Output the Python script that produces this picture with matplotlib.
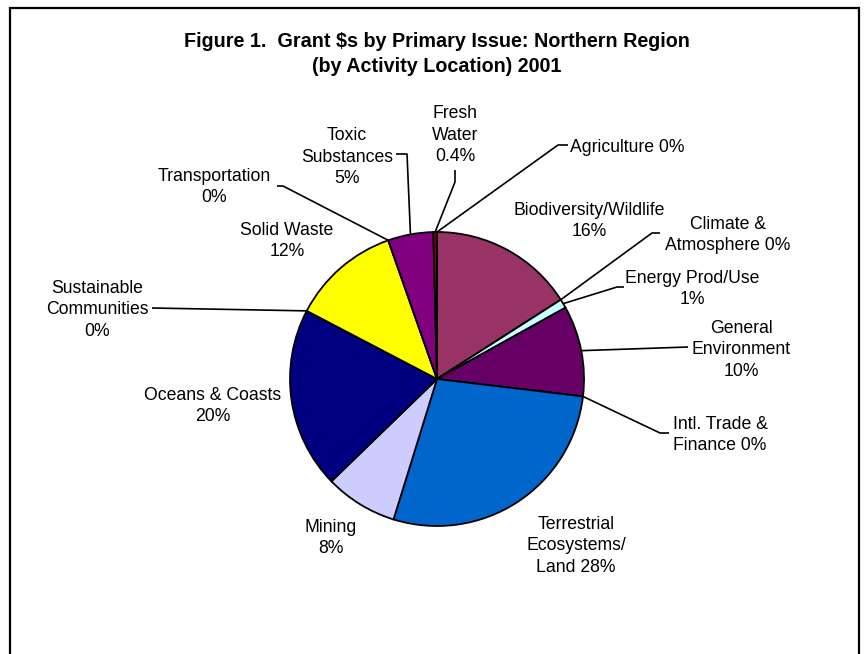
import numpy as np
import matplotlib
matplotlib.use('Agg')
import matplotlib.pyplot as plt
from matplotlib.patches import Rectangle

W, H = 864, 654

issues = ['Agriculture', 'Biodiversity/Wildlife', 'Climate & Atmosphere', 'Energy Prod/Use',
          'General Environment', 'Intl. Trade & Finance', 'Terrestrial Ecosystems/Land',
          'Mining', 'Oceans & Coasts', 'Sustainable Communities', 'Solid Waste',
          'Transportation', 'Toxic Substances', 'Fresh Water']
shares = [0, 16, 0, 1, 10, 0, 28, 8, 20, 0, 12, 0, 5, 0.4]
colors = ['#9999FF', '#993366', '#FFFFCC', '#CCFFFF', '#660066', '#FF8080', '#0066CC',
          '#CCCCFF', '#000080', '#FF00FF', '#FFFF00', '#00FFFF', '#800080', '#800000']
label_text = ['Agriculture 0%', 'Biodiversity/Wildlife\n16%', 'Climate &\nAtmosphere 0%',
              'Energy Prod/Use\n1%', 'General\nEnvironment\n10%', 'Intl. Trade &\nFinance 0%',
              'Terrestrial\nEcosystems/\nLand 28%', 'Mining\n8%', 'Oceans & Coasts\n20%',
              'Sustainable\nCommunities\n0%', 'Solid Waste\n12%', 'Transportation\n0%',
              'Toxic\nSubstances\n5%', 'Fresh\nWater\n0.4%']

# layout (pixels from top-left)
center = (437, 379)
radius = 147
label_pos = {
    'Agriculture': (570, 148, 'left'),
    'Biodiversity/Wildlife': (589, 221, 'center'),
    'Climate & Atmosphere': (728, 235, 'center'),
    'Energy Prod/Use': (692, 289, 'center'),
    'General Environment': (741, 350, 'center'),
    'Intl. Trade & Finance': (720, 435, 'center'),
    'Terrestrial Ecosystems/Land': (576, 546, 'center'),
    'Mining': (331, 538, 'center'),
    'Oceans & Coasts': (213, 406, 'center'),
    'Sustainable Communities': (97, 310, 'center'),
    'Solid Waste': (287, 241, 'center'),
    'Transportation': (214, 187, 'center'),
    'Toxic Substances': (347, 157, 'center'),
    'Fresh Water': (455, 135, 'center'),
}
# leader lines: extra points after the wedge anchor
leaders = {
    'Agriculture': [(558, 145), (568, 145)],
    'Climate & Atmosphere': [(652, 233), (660, 233)],
    'Energy Prod/Use': [(617, 287), (624, 287)],
    'General Environment': [(688, 347)],
    'Intl. Trade & Finance': [(660, 433), (669, 433)],
    'Sustainable Communities': [(152, 308)],
    'Transportation': [(283, 186), (277, 186)],
    'Toxic Substances': [(407, 154), (396, 154)],
    'Fresh Water': [(455, 182), (455, 170)],
}


def px(x, y):
    return x, H - y


plt.rcParams['font.family'] = ['Liberation Sans', 'DejaVu Sans']

fig = plt.figure(figsize=(W / 100, H / 100), dpi=100)
ax = fig.add_axes([0, 0, 1, 1])

ax.pie(shares, colors=colors, startangle=90, counterclock=False,
       center=px(*center), radius=radius, frame=True,
       wedgeprops=dict(edgecolor='black', linewidth=1.3))
ax.set_xlim(0, W)
ax.set_ylim(0, H)
ax.set_axis_off()

ax.add_patch(Rectangle((10, -20), 849, H - 8 + 20, fill=False, lw=1.6, ec='black'))

total = sum(shares)
cum = np.cumsum([0] + shares[:-1])
cx, cy = px(*center)
for name, txt, c0, v in zip(issues, label_text, cum, shares):
    x, y, ha = label_pos[name]
    ax.text(x, H - y, txt, ha=ha, va='center', multialignment='center',
            fontsize=12.7, linespacing=1.33, color='black')
    if name in leaders:
        mid = (c0 + v / 2) / total
        ang = np.deg2rad(90 - 360 * mid)
        xs = [cx + radius * np.cos(ang)] + [p[0] for p in leaders[name]]
        ys = [cy + radius * np.sin(ang)] + [H - p[1] for p in leaders[name]]
        ax.plot(xs, ys, color='black', lw=1.2, solid_capstyle='butt')

ax.text(437, H - 54, 'Figure 1.  Grant $s by Primary Issue: Northern Region\n(by Activity Location) 2001',
        ha='center', va='center', fontsize=14.2, fontweight='bold', linespacing=1.35)

fig.savefig('out.png', dpi=100)
